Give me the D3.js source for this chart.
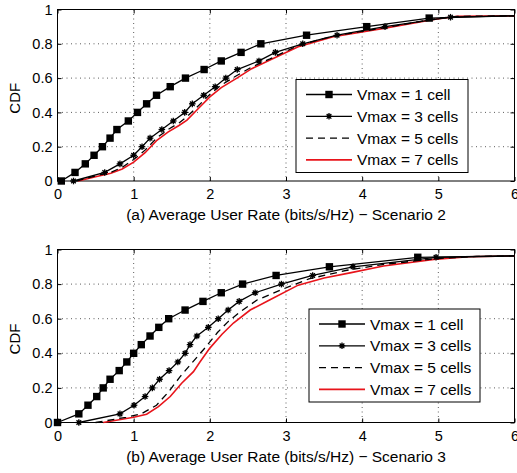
<!DOCTYPE html>
<html><head><meta charset="utf-8">
<script src="https://cdn.jsdelivr.net/npm/d3@7"></script>
<style>body{margin:0;background:#fff}svg{display:block}text{font-family:"Liberation Sans",Arial,sans-serif;fill:#000}</style>
</head><body><svg id="c" width="517" height="473"></svg>
<script>
// Series names
const seriesNames = ["Vmax = 1 cell","Vmax = 3 cells","Vmax = 5 cells","Vmax = 7 cells"];
const xTicks = [0,1,2,3,4,5,6];
const yTicks = [0,0.2,0.4,0.6,0.8,1];
const xLabels = ["(a) Average User Rate (bits/s/Hz) \u2212 Scenario 2","(b) Average User Rate (bits/s/Hz) \u2212 Scenario 3"];

// Scenario 2 [x, cdf]
const s2_v1 = [[0.05,0],[0.23,0.05],[0.365,0.1],[0.48,0.15],[0.59,0.2],[0.69,0.25],[0.78,0.3],[0.93,0.35],[1.05,0.4],[1.17,0.45],[1.3,0.5],[1.48,0.55],[1.68,0.6],[1.925,0.65],[2.15,0.7],[2.41,0.75],[2.67,0.8],[3.27,0.85],[4.06,0.9],[4.88,0.95],[6,0.963]];
const s2_v3 = [[0.21,0],[0.62,0.05],[0.82,0.1],[1.0,0.15],[1.11,0.2],[1.215,0.25],[1.37,0.3],[1.52,0.35],[1.67,0.4],[1.77,0.45],[1.92,0.5],[2.07,0.55],[2.21,0.6],[2.36,0.65],[2.645,0.7],[2.86,0.75],[3.22,0.8],[3.67,0.85],[4.3,0.9],[5.16,0.955],[6,0.963]];
const s2_v5 = [[0.25,0],[0.5,0.03],[0.7,0.05],[0.85,0.08],[1.0,0.125],[1.15,0.18],[1.3,0.25],[1.45,0.3],[1.6,0.34],[1.7,0.375],[1.83,0.43],[2.0,0.505],[2.15,0.56],[2.355,0.615],[2.55,0.665],[2.79,0.712],[3.16,0.79],[3.62,0.845],[4.28,0.893],[4.98,0.947],[5.25,0.96],[6,0.963]];
const s2_v7 = [[0.27,0],[0.5,0.025],[0.7,0.045],[0.85,0.07],[1.0,0.11],[1.15,0.165],[1.3,0.235],[1.45,0.285],[1.6,0.325],[1.7,0.355],[1.83,0.414],[2.0,0.49],[2.15,0.545],[2.355,0.6],[2.55,0.655],[2.79,0.705],[3.16,0.783],[3.62,0.841],[4.28,0.89],[4.98,0.945],[5.25,0.96],[6,0.963]];

// Scenario 3 [x, cdf]
const s3_v1 = [[0,0],[0.28,0.05],[0.4,0.1],[0.515,0.15],[0.6,0.2],[0.69,0.25],[0.81,0.3],[0.91,0.35],[1.0,0.4],[1.1,0.45],[1.215,0.5],[1.33,0.55],[1.46,0.6],[1.675,0.65],[1.91,0.7],[2.15,0.75],[2.43,0.8],[2.87,0.85],[3.57,0.9],[4.73,0.955],[6,0.963]];
const s3_v3 = [[0.28,0],[0.82,0.05],[1.005,0.1],[1.15,0.15],[1.245,0.2],[1.34,0.25],[1.465,0.3],[1.58,0.35],[1.675,0.4],[1.74,0.45],[1.83,0.5],[1.98,0.55],[2.11,0.6],[2.24,0.65],[2.385,0.7],[2.595,0.75],[2.94,0.8],[3.35,0.85],[3.88,0.9],[4.97,0.955],[6,0.963]];
const s3_v5 = [[0.5,0],[0.9,0.03],[1.1,0.05],[1.3,0.1],[1.46,0.178],[1.61,0.265],[1.76,0.342],[1.95,0.438],[2.1,0.52],[2.24,0.583],[2.4,0.64],[2.62,0.708],[2.93,0.766],[3.3,0.83],[3.8,0.88],[4.3,0.915],[5.0,0.948],[5.5,0.96],[6,0.963]];
const s3_v7 = [[0.6,0],[1.0,0.03],[1.17,0.048],[1.325,0.092],[1.48,0.15],[1.63,0.227],[1.785,0.294],[1.87,0.35],[2.0,0.43],[2.16,0.51],[2.31,0.575],[2.53,0.65],[2.79,0.71],[3.16,0.794],[3.5,0.835],[3.84,0.865],[4.28,0.905],[4.94,0.943],[5.4,0.958],[6,0.963]];

const panels = [
  {top:9.5, bottom:181, series:[s2_v1,s2_v3,s2_v5,s2_v7], xlab:xLabels[0], legend:{x:296,y:79.5,w:172,h:93}},
  {top:249.5, bottom:422.5, series:[s3_v1,s3_v3,s3_v5,s3_v7], xlab:xLabels[1], legend:{x:309,y:309,w:171,h:93}}
];
const left = 57.5, right = 514.5;
const styles = [
  {color:"#000", dash:null, marker:"square", w:1.3},
  {color:"#000", dash:null, marker:"star", w:1.3},
  {color:"#000", dash:"7,5", marker:null, w:1.3},
  {color:"#e8141b", dash:null, marker:null, w:1.6}
];
const svg = d3.select("#c");

function drawMarker(g, type, x, y){
  if(type==="square"){
    g.append("rect").attr("x",x-3.7).attr("y",y-3.7).attr("width",7.4).attr("height",7.4).attr("fill","#000");
  } else if(type==="star"){
    const r=3.3;
    for(const a of [0,45,90,135]){
      const t=a*Math.PI/180;
      g.append("line").attr("x1",x-r*Math.cos(t)).attr("y1",y-r*Math.sin(t))
        .attr("x2",x+r*Math.cos(t)).attr("y2",y+r*Math.sin(t))
        .attr("stroke","#000").attr("stroke-width",1.3);
    }
    g.append("circle").attr("cx",x).attr("cy",y).attr("r",2).attr("fill","#000");
  }
}

panels.forEach(p=>{
  const x = d3.scaleLinear().domain([0,6]).range([left,right]);
  const y = d3.scaleLinear().domain([0,1]).range([p.bottom,p.top]);
  const g = svg.append("g");
  // grid
  xTicks.slice(1,-1).forEach(t=>{
    g.append("line").attr("x1",x(t)).attr("x2",x(t)).attr("y1",p.top).attr("y2",p.bottom)
      .attr("stroke","#333").attr("stroke-width",0.8).attr("stroke-dasharray","1,3.5");
  });
  yTicks.slice(1,-1).forEach(t=>{
    g.append("line").attr("y1",y(t)).attr("y2",y(t)).attr("x1",left).attr("x2",right)
      .attr("stroke","#333").attr("stroke-width",0.8).attr("stroke-dasharray","1,3.5");
  });
  // axes
  const ax = g.append("g").attr("transform",`translate(0,${p.bottom})`)
    .call(d3.axisBottom(x).tickValues(xTicks).tickSize(-4).tickPadding(8).tickFormat(d3.format("d")));
  const axT = g.append("g").attr("transform",`translate(0,${p.top})`)
    .call(d3.axisTop(x).tickValues(xTicks).tickSize(-4).tickFormat(""));
  const ay = g.append("g").attr("transform",`translate(${left},0)`)
    .call(d3.axisLeft(y).tickValues(yTicks).tickSize(-4).tickPadding(5).tickFormat(d=>d===0||d===1?String(d):d3.format(".1f")(d)));
  const ayR = g.append("g").attr("transform",`translate(${right},0)`)
    .call(d3.axisRight(y).tickValues(yTicks).tickSize(-4).tickFormat(""));
  [ax,axT,ay,ayR].forEach(a=>{a.select(".domain").remove();a.selectAll("line").attr("stroke","#000");a.selectAll("text").style("font-size","14.5px").style("font-family","Liberation Sans, Arial, sans-serif").attr("fill","#000");});
  g.append("rect").attr("x",left).attr("y",p.top).attr("width",right-left).attr("height",p.bottom-p.top)
    .attr("fill","none").attr("stroke","#000").attr("stroke-width",1);
  // lines
  const line = d3.line().x(d=>x(d[0])).y(d=>y(d[1]));
  const order=[3,2,1,0];
  order.forEach(i=>{
    const s=styles[i];
    g.append("path").datum(p.series[i]).attr("d",line).attr("fill","none")
      .attr("stroke",s.color).attr("stroke-width",s.w).attr("stroke-dasharray",s.dash);
    if(s.marker){
      p.series[i].slice(0,-1).forEach(d=>drawMarker(g,s.marker,x(d[0]),y(d[1])));
    }
  });
  // labels
  g.append("text").attr("x",(left+right)/2).attr("y",p.bottom+39).attr("text-anchor","middle")
    .style("font-size","15.5px").text(p.xlab);
  g.append("text").attr("transform",`translate(20,${(p.top+p.bottom)/2+3}) rotate(-90)`).attr("text-anchor","middle")
    .style("font-size","15px").text("CDF");
  // legend
  const L=p.legend;
  const lg=g.append("g");
  lg.append("rect").attr("x",L.x).attr("y",L.y).attr("width",L.w).attr("height",L.h).attr("fill","#fff").attr("stroke","#000").attr("stroke-width",1);
  seriesNames.forEach((n,i)=>{
    const yy=L.y+15+i*21.8;
    const s=styles[i];
    lg.append("line").attr("x1",L.x+10).attr("x2",L.x+56).attr("y1",yy).attr("y2",yy)
      .attr("stroke",s.color).attr("stroke-width",s.w).attr("stroke-dasharray",s.dash);
    if(s.marker) drawMarker(lg,s.marker,L.x+33,yy);
    lg.append("text").attr("x",L.x+61).attr("y",yy+5.5).style("font-size","15.5px").text(n);
  });
});
</script></body></html>
